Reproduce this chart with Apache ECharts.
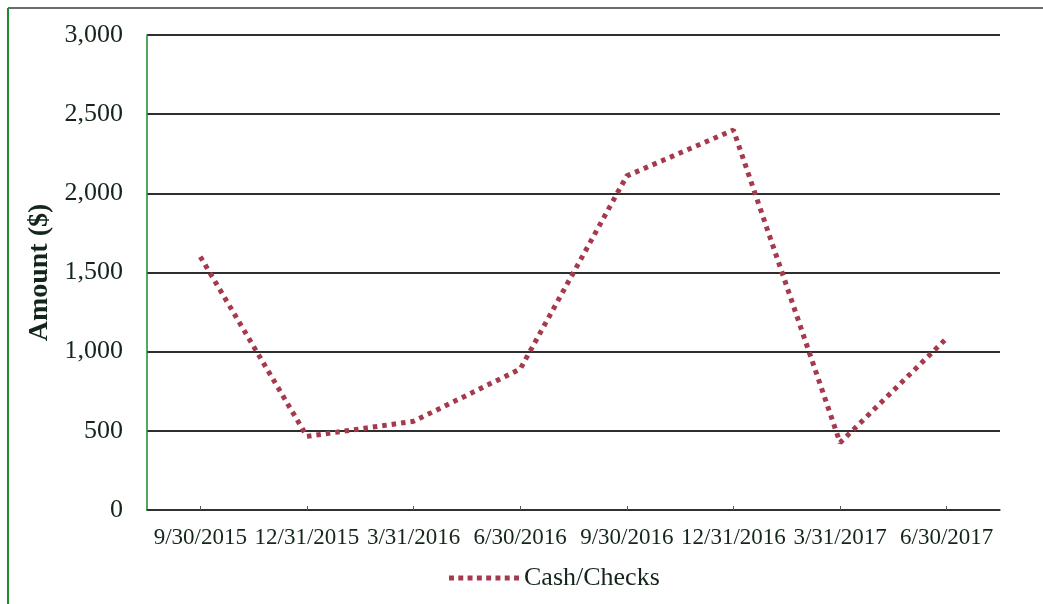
<!DOCTYPE html>
<html>
<head>
<meta charset="utf-8">
<script src="https://cdn.jsdelivr.net/npm/echarts@6/dist/echarts.min.js"></script>
<style>
  html, body { margin: 0; padding: 0; background: #ffffff; }
  #chart { width: 1043px; height: 604px; }
</style>
</head>
<body>
<div id="chart"></div>
<script>
// Quarter-end dates and cash/check amounts
const quarters = ['9/30/2015', '12/31/2015', '3/31/2016', '6/30/2016', '9/30/2016', '12/31/2016', '3/31/2017', '6/30/2017'];
const cashChecks = [1600, 465, 560, 890, 2110, 2400, 425, 1085];
const yTicks = { min: 0, max: 3000, interval: 500 };

const serif = '"Liberation Serif", "DejaVu Serif", serif';
const textColor = '#14261a';
const lineColor = '#a43a4c';

// legend key: a row of square dots like the series stroke
let dotPath = 'path://';
for (let i = 0; i < 8; i++) {
  const x = i * 9.4;
  dotPath += 'M' + x + ',0h5v5h-5z';
}

const chart = echarts.init(document.getElementById('chart'), null, { renderer: 'canvas' });

chart.setOption({
  animation: false,
  backgroundColor: '#ffffff',
  grid: { left: 147, right: 43, top: 35, bottom: 94, containLabel: false },
  graphic: [
    // outer frame: dark top rule and green left rule
    { type: 'line', shape: { x1: 8, y1: 8, x2: 1043, y2: 8 }, style: { stroke: '#3a3a3a', lineWidth: 1.5 } },
    { type: 'line', shape: { x1: 8, y1: 8, x2: 8, y2: 604 }, style: { stroke: '#1a8a2a', lineWidth: 2 } }
  ],
  legend: {
    bottom: 8,
    left: 444,
    icon: dotPath,
    itemWidth: 70,
    itemHeight: 5,
    itemGap: 10,
    textStyle: { fontFamily: serif, fontSize: 26, color: textColor },
    itemStyle: { color: lineColor },
    data: ['Cash/Checks']
  },
  xAxis: {
    type: 'category',
    data: quarters,
    boundaryGap: true,
    axisLine: { lineStyle: { color: '#333333', width: 1.5 } },
    axisTick: { show: true, inside: true, length: 4, alignWithLabel: true, lineStyle: { color: '#555555' } },
    axisLabel: { fontFamily: serif, fontSize: 23, color: textColor, margin: 16, interval: 0 },
    splitLine: { show: false }
  },
  yAxis: {
    type: 'value',
    min: yTicks.min,
    max: yTicks.max,
    interval: yTicks.interval,
    name: 'Amount ($)',
    nameLocation: 'middle',
    nameGap: 92,
    nameRotate: 90,
    nameTextStyle: { fontFamily: serif, fontSize: 28, fontWeight: 'bold', color: textColor },
    axisLine: { show: true, lineStyle: { color: '#1a8a2a', width: 1.5 } },
    axisTick: { show: false },
    axisLabel: {
      fontFamily: serif, fontSize: 26, color: textColor, margin: 24,
      formatter: v => v.toLocaleString('en-US')
    },
    splitLine: { show: true, lineStyle: { color: '#2e2e2e', width: 2 } }
  },
  series: [{
    name: 'Cash/Checks',
    type: 'line',
    data: cashChecks,
    symbol: 'none',
    smooth: false,
    lineStyle: { color: lineColor, width: 5, type: [4.5, 5], cap: 'butt' },
    itemStyle: { color: lineColor }
  }]
});
</script>
</body>
</html>
